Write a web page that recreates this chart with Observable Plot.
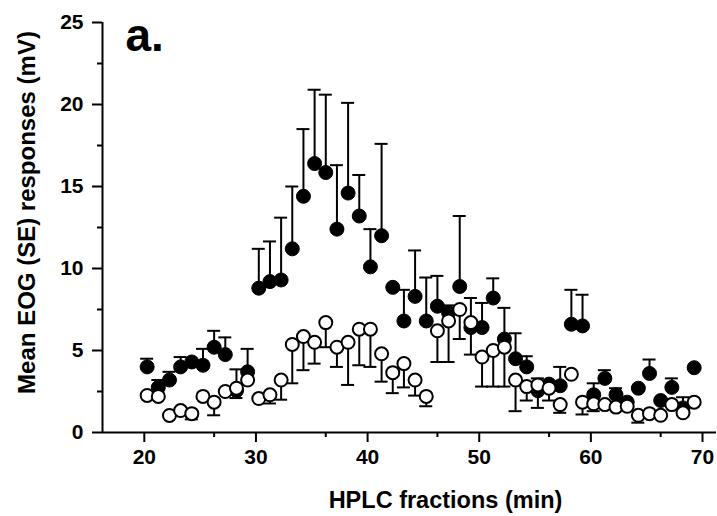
<!DOCTYPE html>
<html>
<head>
<meta charset="utf-8">
<script src="https://cdn.jsdelivr.net/npm/d3@7"></script>
<script src="https://cdn.jsdelivr.net/npm/@observablehq/plot@0.6"></script>
<style>
  html, body { margin: 0; padding: 0; background: #fff; }
  #chart svg { display: block; }
</style>
</head>
<body>
<div id="chart"></div>
<script>
// HPLC fraction (min)
const minutes = [19,20,21,22,23,24,25,26,27,28,29,30,31,32,33,34,35,36,37,38,39,40,41,42,43,44,45,46,47,48,49,50,51,52,53,54,55,56,57,58,59,60,61,62,63,64,65,66,67,68];
// filled circles: mean EOG (mV) and SE (drawn upward)
const filledMean = [4.0,2.75,3.2,4.0,4.3,4.1,5.2,4.75,2.55,3.7,8.8,9.2,9.3,11.2,14.4,16.4,15.85,12.4,14.6,13.2,10.1,12.0,8.85,6.8,8.3,6.8,7.7,7.3,8.9,6.4,6.4,8.2,5.7,4.5,4.0,2.55,2.95,2.85,6.6,6.5,2.3,3.3,2.3,1.85,2.7,3.6,1.95,2.75,1.5,3.95];
const filledSE = [0.5,0.45,0.5,0.6,0,1.0,1.0,1.05,1.3,1.4,2.4,2.45,3.8,3.8,4.1,4.5,4.75,3.9,5.5,2.5,2.3,5.6,0,1.9,2.8,2.65,1.85,0.45,4.3,1.8,1.5,1.2,1.9,1.55,0.65,0.75,0,1.15,2.1,1.9,0.7,0.5,0.4,0,0,0.85,0,0.55,0.65,0];
// open circles: mean EOG (mV) and SE (drawn downward)
const openMean = [2.26,2.2,1.04,1.34,1.15,2.2,1.85,2.5,2.7,3.2,2.07,2.3,3.2,5.37,5.85,5.5,6.7,5.2,5.5,6.3,6.3,4.8,3.65,4.2,3.2,2.2,6.2,6.8,7.5,6.7,4.6,5.0,5.2,3.2,2.8,2.9,2.7,1.7,3.55,1.85,1.75,1.7,1.55,1.6,1.05,1.15,1.05,1.7,1.2,1.85];
const openSE = [0,0,0,0,0.35,0,0.8,0,0.6,0,0,0.53,1.2,2.37,2.05,1.3,1.5,1.2,2.6,2.2,2.3,1.7,1.25,1.45,0.95,0.6,1.9,2.5,1.8,1.95,1.8,2.2,2.4,1.9,0.85,1.4,0.75,0.5,0,0.75,0.45,0,0,0,0.45,0,0,0,0,0];

const xMajor = [20,30,40,50,60,70];
const xMinor = [25,35,45,55,65];
const yMajor = [0,5,10,15,20,25];
const yMinor = [2.5,7.5,12.5,17.5,22.5];

const filled = minutes.map((m, i) => ({x: m, v: filledMean[i], se: filledSE[i], end: filledMean[i] + filledSE[i]}));
const open = minutes.map((m, i) => ({x: m, v: openMean[i], se: openSE[i], end: openMean[i] - openSE[i]}));
const filledBars = filled.filter(d => d.se > 0);
const openBars = open.filter(d => d.se > 0);

const font = "'Liberation Sans', Arial, Helvetica, sans-serif";

const chart = Plot.plot({
  width: 717,
  height: 516,
  marginTop: 22,
  marginLeft: 102,
  marginRight: 1,
  marginBottom: 84,
  style: {fontFamily: font, fontWeight: "bold", color: "black", background: "white"},
  x: {domain: [15, 70]},
  y: {domain: [0, 25]},
  marks: [
    // axes
    Plot.axisX({ticks: xMajor, tickSize: 10, tickPadding: 7, strokeWidth: 2, fontSize: 21, fontWeight: "bold", dx: -14, label: null}),
    Plot.axisX({ticks: xMinor, tickSize: 5, strokeWidth: 2, text: null, label: null}),
    Plot.axisY({ticks: yMajor, tickSize: 10, tickPadding: 9, strokeWidth: 2, fontSize: 21, fontWeight: "bold", label: null}),
    Plot.axisY({ticks: yMinor, tickSize: 5, strokeWidth: 2, text: null, label: null}),
    Plot.ruleY([0], {stroke: "black", strokeWidth: 2}),
    Plot.ruleX([15], {stroke: "black", strokeWidth: 2}),
    // filled series: upward SE bars
    Plot.ruleX(filledBars, {x: "x", y1: "v", y2: "end", stroke: "black", strokeWidth: 2}),
    Plot.ruleY(filledBars, {y: "end", x1: "x", x2: "x", insetLeft: -6.5, insetRight: -6.5, stroke: "black", strokeWidth: 2}),
    Plot.dot(filled, {x: "x", y: "v", r: 7, fill: "black", stroke: "black", strokeWidth: 1}),
    // open series: downward SE bars
    Plot.ruleX(openBars, {x: "x", y1: "v", y2: "end", stroke: "black", strokeWidth: 2}),
    Plot.ruleY(openBars, {y: "end", x1: "x", x2: "x", insetLeft: -6.5, insetRight: -6.5, stroke: "black", strokeWidth: 2}),
    Plot.dot(open, {x: "x", y: "v", r: 6.5, fill: "white", stroke: "black", strokeWidth: 2}),
    // texts
    Plot.text(["a."], {text: d => d, frameAnchor: "top-left", textAnchor: "start", lineAnchor: "bottom", dx: 23, dy: 28, fontSize: 46, fontWeight: "bold"}),
    Plot.text(["HPLC fractions (min)"], {text: d => d, frameAnchor: "bottom", textAnchor: "middle", lineAnchor: "middle", dx: 36, dy: 68, fontSize: 23.5, fontWeight: "bold"}),
    Plot.text(["Mean EOG (SE) responses (mV)"], {text: d => d, frameAnchor: "left", textAnchor: "middle", lineAnchor: "middle", rotate: -90, dx: -75, dy: -15, fontSize: 24, fontWeight: "bold"})
  ]
});
document.getElementById("chart").appendChild(chart);
</script>
</body>
</html>
